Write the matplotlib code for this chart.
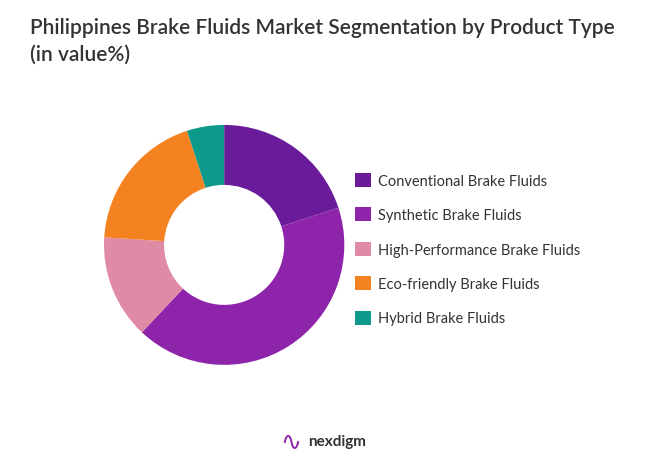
import matplotlib
matplotlib.use("Agg")
import matplotlib.pyplot as plt
from matplotlib.patches import Patch

categories = ["Conventional Brake Fluids", "Synthetic Brake Fluids", "High-Performance Brake Fluids",
              "Eco-friendly Brake Fluids", "Hybrid Brake Fluids"]
values = [20, 42, 14, 19, 5]
colors = ["#6A1B9A", "#8E24AA", "#E08BA5", "#F58220", "#0E9A8A"]

fig = plt.figure(figsize=(6.46, 4.77), dpi=100)
ax = fig.add_axes([0.161, 0.233, 0.372, 0.503])
ax.pie(values, colors=colors, startangle=90, counterclock=False,
       wedgeprops=dict(width=0.5, edgecolor="none"))
ax.set_aspect("auto")
ax.set_xlim(-1, 1)
ax.set_ylim(-1, 1)

fig.text(30/646, 1-18/477, "Philippines Brake Fluids Market Segmentation by Product Type\n(in value%)",
         ha="left", va="top", fontsize=15, color="#333333", family="Lato", weight="semibold", linespacing=1.4)

handles = [Patch(facecolor=c) for c in colors]
fig.legend(handles, categories, loc="upper left", bbox_to_anchor=(342/646, 1-161/477),
           frameon=False, handlelength=1.1, handleheight=1.1,
           labelspacing=1.33, handletextpad=0.5, labelcolor="#333333", prop={"family": "Lato", "size": 10.5})

fig.text(291/646, 1-442/477, "∿", ha="center", va="center", fontsize=18, color="#8E24AA")
fig.text(337/646, 1-442/477, "nexdigm", ha="center", va="center", fontsize=11, color="#333333", family="Lato", weight="bold")

fig.savefig("out.png", dpi=100, facecolor="white")
